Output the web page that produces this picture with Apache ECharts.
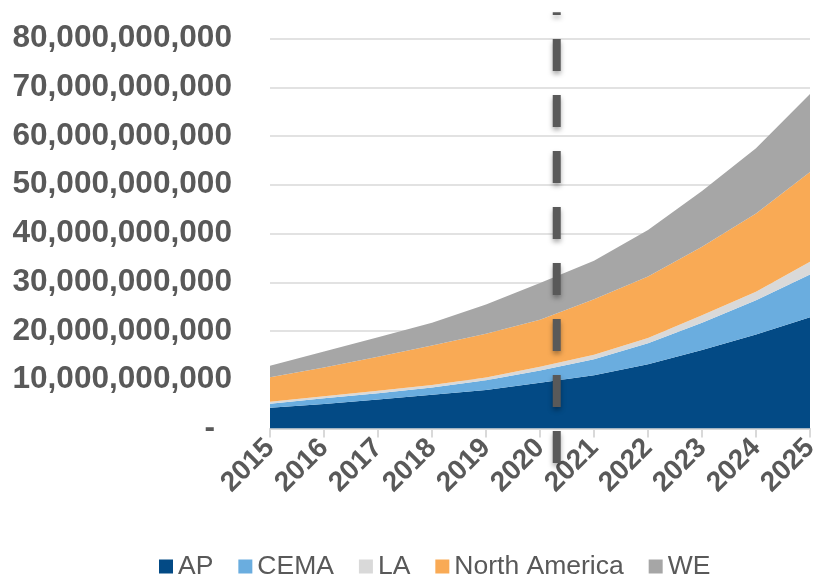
<!DOCTYPE html>
<html>
<head>
<meta charset="utf-8">
<script src="https://cdn.jsdelivr.net/npm/echarts@6/dist/echarts.min.js"></script>
<style>
html,body{margin:0;padding:0;background:#fff;}
#chart{width:817px;height:574px;}
</style>
</head>
<body>
<div id="chart"></div>
<script>
// Categories (years)
const years = ['2015','2016','2017','2018','2019','2020','2021','2022','2023','2024','2025'];
// Series values (units)
const AP   = [4.25e9, 5.05e9, 5.95e9, 6.9e9, 7.9e9, 9.4e9, 10.9e9, 13.2e9, 16.1e9, 19.3e9, 22.8e9];
const CEMA = [0.85e9, 1.15e9, 1.3e9, 1.5e9, 2.0e9, 2.5e9, 3.3e9, 4.3e9, 5.6e9, 7.0e9, 8.8e9];
const LA   = [0.4e9, 0.42e9, 0.47e9, 0.53e9, 0.55e9, 0.75e9, 0.95e9, 1.05e9, 1.55e9, 1.75e9, 2.6e9];
const NorthAmerica = [5.0e9, 5.9e9, 7.0e9, 8.1e9, 9.0e9, 9.65e9, 11.35e9, 12.65e9, 14.05e9, 16.05e9, 18.4e9];
const WE   = [2.35e9, 3.3e9, 4.0e9, 4.65e9, 6.0e9, 7.55e9, 7.9e9, 9.5e9, 11.4e9, 13.4e9, 16.0e9];
// Y axis ticks
const yMin = 0, yMax = 80e9, yInterval = 10e9;
// Dashed divider position (category index between 2020 and 2021) and extent in data units
const dividerPos = 5.31;
const dividerTop = 85.4e9, dividerBottom = -7.1e9;

const names = ['AP','CEMA','LA','North America','WE'];
const values = [AP, CEMA, LA, NorthAmerica, WE];
const colors = ['#034A85','#6AADDF','#D9D9D9','#F9AA55','#A6A6A6'];

const chart = echarts.init(document.getElementById('chart'), null, {renderer:'canvas'});
const font = '"Liberation Sans", Arial, sans-serif';
const textColor = '#595959';

function fmt(v){
  if (v === 0) return '{z|-}';
  return String(Math.round(v)).replace(/\B(?=(\d{3})+(?!\d))/g, ',');
}

chart.setOption({
  animation:false,
  color: colors,
  grid:{left:270, right:7, top:38.5, bottom:145.5, containLabel:false, outerBoundsMode:'none'},
  legend:{
    data: names,
    left:154, top:548,
    itemWidth:14, itemHeight:14, itemGap:25,
    icon:'rect',
    textStyle:{fontFamily:font, fontSize:26.5, color:textColor, padding:[0,0,0,0]}
  },
  xAxis:{
    type:'category', data: years, boundaryGap:false,
    axisLine:{show:true, lineStyle:{color:'#D9D9D9', width:2}},
    axisTick:{show:true, length:9, interval:0, lineStyle:{color:'#D9D9D9', width:2}},
    axisLabel:{interval:0, rotate:45, margin:15, fontFamily:font, fontSize:28, fontWeight:'bold', color:textColor},
    splitLine:{show:false}
  },
  yAxis:{
    type:'value', min:yMin, max:yMax, interval:yInterval,
    axisLine:{show:false}, axisTick:{show:false},
    axisLabel:{margin:38, fontFamily:font, fontSize:31.6, fontWeight:'bold', color:textColor,
      formatter: fmt,
      rich:{z:{fontFamily:font, fontSize:31.6, fontWeight:'bold', color:textColor, padding:[0,17,0,0]}}
    },
    splitLine:{show:true, lineStyle:{color:'#D9D9D9', width:1.5}}
  },
  series: names.map((n,i)=>({
    name:n, type:'line', stack:'total', data: values[i],
    symbol:'none', smooth:false,
    lineStyle:{width:0},
    areaStyle:{color:colors[i], opacity:1},
    itemStyle:{color:colors[i]}
  }))
});

// Dashed vertical divider placed via the chart's own scales
const x5 = chart.convertToPixel({xAxisIndex:0}, years[5]);
const x6 = chart.convertToPixel({xAxisIndex:0}, years[6]);
const dx = x5 + (x6 - x5) * (dividerPos - 5);
const yTop = chart.convertToPixel({yAxisIndex:0}, dividerTop);
const yBot = chart.convertToPixel({yAxisIndex:0}, dividerBottom);
chart.setOption({
  graphic:[{
    type:'line', z:100,
    shape:{x1:dx, y1:yBot, x2:dx, y2:yTop},
    style:{stroke:'#595959', lineWidth:8, lineDash:[32,24], lineCap:'butt',
      shadowBlur:5, shadowColor:'rgba(0,0,0,0.35)', shadowOffsetY:3}
  }]
});
</script>
</body>
</html>
